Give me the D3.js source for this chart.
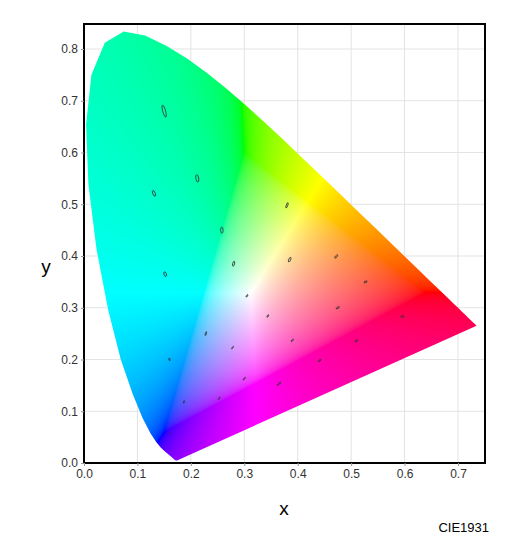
<!DOCTYPE html><html><head><meta charset="utf-8">
<script src="https://cdn.jsdelivr.net/npm/d3@7"></script>
<style>body{margin:0;background:#fff}svg{font-family:"Liberation Sans",Arial,sans-serif}</style></head><body>
<svg id="c" width="508" height="540"></svg>
<script>
const locusX=[0.1741,0.1740,0.1738,0.1736,0.1733,0.1730,0.1726,0.1721,0.1714,0.1703,0.1689,0.1669,0.1644,0.1611,0.1566,0.1510,0.1440,0.1355,0.1241,0.1096,0.0913,0.0687,0.0454,0.0235,0.0082,0.0039,0.0139,0.0389,0.0743,0.1142,0.1547,0.1929,0.2296,0.2658,0.3016,0.3373,0.3731,0.4087,0.4441,0.4788,0.5125,0.5448,0.5752,0.6029,0.6270,0.6482,0.6658,0.6801,0.6915,0.7006,0.7079,0.7140,0.7190,0.7230,0.7260,0.7283,0.7300,0.7311,0.7320,0.7334,0.7347];
const locusY=[0.0050,0.0050,0.0049,0.0049,0.0048,0.0048,0.0048,0.0048,0.0051,0.0058,0.0069,0.0086,0.0109,0.0138,0.0177,0.0227,0.0297,0.0399,0.0578,0.0868,0.1327,0.2007,0.2950,0.4127,0.5384,0.6548,0.7502,0.8120,0.8338,0.8262,0.8059,0.7816,0.7543,0.7243,0.6923,0.6589,0.6245,0.5896,0.5547,0.5202,0.4866,0.4544,0.4242,0.3965,0.3725,0.3514,0.3340,0.3197,0.3083,0.2993,0.2920,0.2859,0.2809,0.2770,0.2740,0.2717,0.2700,0.2689,0.2680,0.2666,0.2653];
// MacAdam ellipses: centre x, y, semi-axes a, b (x1000), angle (deg)
const ellX=[0.160,0.187,0.253,0.150,0.131,0.212,0.258,0.152,0.280,0.380,0.160,0.228,0.305,0.385,0.472,0.527,0.475,0.510,0.596,0.344,0.390,0.441,0.278,0.300,0.365];
const ellY=[0.057,0.118,0.125,0.680,0.521,0.550,0.450,0.365,0.385,0.498,0.200,0.250,0.323,0.393,0.399,0.350,0.300,0.236,0.283,0.284,0.237,0.198,0.223,0.163,0.153];
const ellA=[0.85,2.2,2.5,9.6,4.7,5.8,5.0,3.8,4.0,4.4,2.1,3.1,2.3,3.8,3.2,2.6,2.9,2.4,2.6,2.3,2.5,2.8,2.4,2.9,3.6];
const ellB=[0.35,0.55,0.5,2.3,2.0,2.3,2.0,1.9,1.5,1.2,0.95,0.9,0.9,1.6,1.4,1.3,1.1,1.2,1.3,0.9,1.0,0.95,0.55,0.6,0.95];
const ellT=[62.5,77,55.5,105,112.5,100,92,110,75.5,70,104,72,58,65.5,51,20,28.5,29.5,13,60,47,34.5,57.5,54,40];
const xTicks=[0,0.1,0.2,0.3,0.4,0.5,0.6,0.7], yTicks=[0,0.1,0.2,0.3,0.4,0.5,0.6,0.7,0.8];

const L=84,R=485,T=24,B=463;
const x=d3.scaleLinear().domain([0,0.7]).range([L,458]);
const y=d3.scaleLinear().domain([0,0.8]).range([B,49]);
const svg=d3.select("#c");
svg.append("g").selectAll("line").data(xTicks).join("line").attr("x1",d=>x(d)).attr("x2",d=>x(d)).attr("y1",T).attr("y2",B).attr("stroke","#e3e3e3");
svg.append("g").selectAll("line").data(yTicks).join("line").attr("y1",d=>y(d)).attr("y2",d=>y(d)).attr("x1",L).attr("x2",R).attr("stroke","#e3e3e3");

const W=R-L,H=B-T;
const cv=document.createElement("canvas");cv.width=W;cv.height=H;
const ctx=cv.getContext("2d");const img=ctx.createImageData(W,H);
const g=v=>v<=0.0031308?12.92*v:1.055*Math.pow(v,1/2.4)-0.055;
for(let j=0;j<H;j++)for(let i=0;i<W;i++){
 const cx=x.invert(L+i+0.5),cy=y.invert(T+j+0.5);if(cy<=0.001)continue;
 const X=cx/cy,Y=1,Z=(1-cx-cy)/cy;
 let r=3.2406*X-1.5372*Y-0.4986*Z,gg=-0.9689*X+1.8758*Y+0.0415*Z,b=0.0557*X-0.2040*Y+1.0570*Z;
 const mn=Math.min(r,gg,b);if(mn<0){r-=mn;gg-=mn;b-=mn;}
 const m=Math.max(r,gg,b)||1;
 const k=(j*W+i)*4;img.data[k]=255*g(r/m);img.data[k+1]=255*g(gg/m);img.data[k+2]=255*g(b/m);img.data[k+3]=255;}
ctx.putImageData(img,0,0);
const pts=locusX.map((v,i)=>[x(v),y(locusY[i])]);
svg.append("defs").append("clipPath").attr("id","lc").append("path").attr("d",d3.line().curve(d3.curveLinearClosed)(pts));
svg.append("image").attr("href",cv.toDataURL()).attr("x",L).attr("y",T).attr("width",W).attr("height",H).attr("clip-path","url(#lc)");

const k=1.2;
svg.append("g").selectAll("ellipse").data(ellX.map((v,i)=>i)).join("ellipse")
 .attr("cx",0).attr("cy",0)
 .attr("rx",i=>x(ellA[i]*k/1000)-x(0)).attr("ry",i=>y(0)-y(ellB[i]*k/1000))
 .attr("transform",i=>`translate(${x(ellX[i])},${y(ellY[i])}) rotate(${-ellT[i]})`)
 .attr("fill","none").attr("stroke","#333").attr("stroke-width",0.8);

svg.append("rect").attr("x",L).attr("y",T).attr("width",W).attr("height",H).attr("fill","none").attr("stroke","#000").attr("stroke-width",2);
const xa=svg.append("g").attr("transform",`translate(0,${B})`).call(d3.axisBottom(x).tickValues(xTicks).tickFormat(d3.format(".1f")).tickSize(3));
const ya=svg.append("g").attr("transform",`translate(${L},0)`).call(d3.axisLeft(y).tickValues(yTicks).tickFormat(d3.format(".1f")).tickSize(3));
[xa,ya].forEach(a=>{a.select(".domain").remove();a.selectAll("text").attr("font-size",12).attr("fill","#333");a.selectAll("line").attr("stroke","#999");});
svg.append("text").attr("x",284).attr("y",515).attr("text-anchor","middle").attr("font-size",19).text("x");
svg.append("text").attr("x",46).attr("y",273).attr("text-anchor","middle").attr("font-size",19).text("y");
svg.append("text").attr("x",489).attr("y",532).attr("text-anchor","end").attr("font-size",13).text("CIE1931");
</script></body></html>
